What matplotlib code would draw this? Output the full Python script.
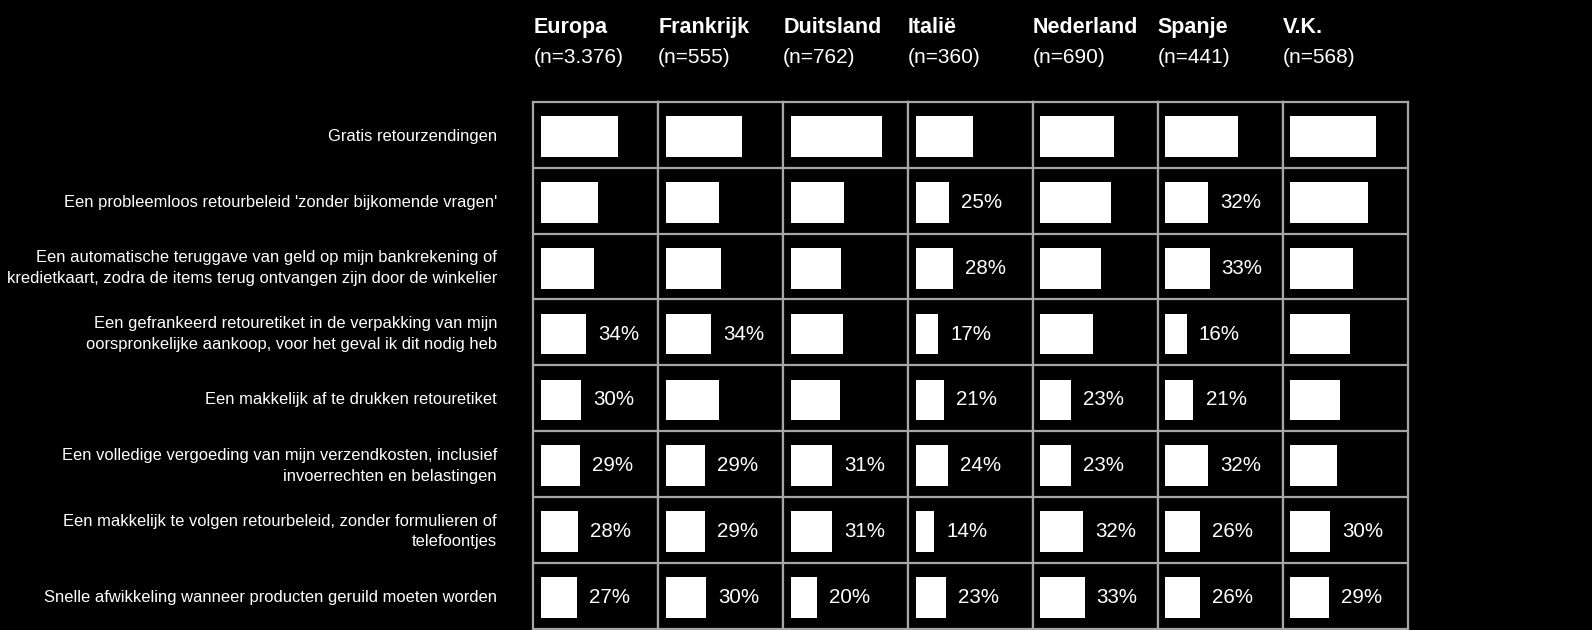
import matplotlib
matplotlib.use("Agg")
import matplotlib.pyplot as plt
import matplotlib.transforms as mtransforms

# ---------------- data ----------------
countries = ["Europa", "Frankrijk", "Duitsland", "Italië", "Nederland", "Spanje", "V.K."]
sample_sizes = ["(n=3.376)", "(n=555)", "(n=762)", "(n=360)", "(n=690)", "(n=441)", "(n=568)"]
items = [
    "Gratis retourzendingen",
    "Een probleemloos retourbeleid 'zonder bijkomende vragen'",
    "Een automatische teruggave van geld op mijn bankrekening of\nkredietkaart, zodra de items terug ontvangen zijn door de winkelier",
    "Een gefrankeerd retouretiket in de verpakking van mijn\noorspronkelijke aankoop, voor het geval ik dit nodig heb",
    "Een makkelijk af te drukken retouretiket",
    "Een volledige vergoeding van mijn verzendkosten, inclusief\ninvoerrechten en belastingen",
    "Een makkelijk te volgen retourbeleid, zonder formulieren of\ntelefoontjes",
    "Snelle afwikkeling wanneer producten geruild moeten worden",
]
europa = [58, 43, 40, 34, 30, 29, 28, 27]
frankrijk = [57, 40, 41, 34, 40, 29, 29, 30]
duitsland = [68, 40, 38, 39, 37, 31, 31, 20]
italie = [43, 25, 28, 17, 21, 24, 14, 23]
nederland = [55, 53, 45, 39, 23, 23, 32, 33]
spanje = [54, 32, 33, 16, 21, 32, 26, 26]
vk = [64, 58, 47, 45, 37, 35, 30, 29]
values = [europa, frankrijk, duitsland, italie, nederland, spanje, vk]

base = "Liberation Sans"

W, H = 1592, 630
fig = plt.figure(figsize=(W / 100, H / 100), dpi=100, facecolor="black")

grid_left, grid_right = 533.3, 1407.7
grid_top, grid_bottom = 101.7, 629.0
ncol = len(countries)
colw = (grid_right - grid_left) / ncol
grid_col = "#a6a6a6"

# percentage scale: 1.338 px per %, bar starts 7.5 px into the cell
px_per = 1.338
x0 = -7.5 / px_per
x1 = x0 + colw / px_per

nrow = len(items)
axes = []
for c in range(ncol):
    left = (grid_left + c * colw) / W
    ax = fig.add_axes([left, 1 - grid_bottom / H, colw / W, (grid_bottom - grid_top) / H])
    ax.set_facecolor("black")
    ax.set_xlim(x0, x1)
    ax.set_ylim(nrow, 0)
    ax.set_xticks([])
    ax.set_yticks([])
    for s in ax.spines.values():
        s.set_color(grid_col)
        s.set_linewidth(1.6)
    for r in range(1, nrow):
        ax.axhline(r, color=grid_col, lw=1.6)
    ypos = [r + 0.525 for r in range(nrow)]
    ax.barh(ypos, values[c], left=0, height=0.62, color="white", edgecolor="none")
    for r, v in enumerate(values[c]):
        if v < 35:
            ax.text(v + 9, ypos[r], f"{v}%", color="white", ha="left", va="center",
                    fontsize=14.8, family=base)
    # headers
    fig.text(left, 1 - 32.7 / H, countries[c], color="white", ha="left", va="baseline",
             fontsize=15.5, family=base, fontweight="bold")
    fig.text(left, 1 - 63.3 / H, sample_sizes[c], color="white", ha="left", va="baseline",
             fontsize=15, family=base)
    axes.append(ax)

# row labels
trans = mtransforms.blended_transform_factory(fig.transFigure, axes[0].transData)
for r, lab in enumerate(items):
    fig.text(497 / W, r + 0.525, lab, transform=trans, color="white", ha="right",
             va="center", fontsize=11.9, family=base, linespacing=1.45,
             multialignment="right")

fig.savefig("out.png", dpi=100, facecolor="black")
